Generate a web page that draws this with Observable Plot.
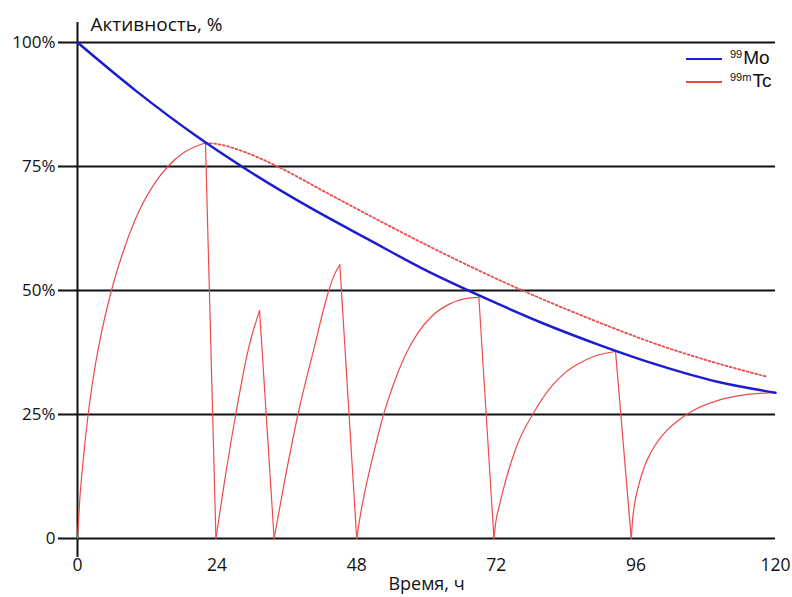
<!DOCTYPE html>
<html>
<head>
<meta charset="utf-8">
<script src="https://cdn.jsdelivr.net/npm/d3@7"></script>
<script src="https://cdn.jsdelivr.net/npm/@observablehq/plot@0.6"></script>
<style>
  body { margin: 0; background: #fff; }
  #wrap { position: relative; width: 792px; height: 597px; font-family: "Open Sans", "Liberation Sans", sans-serif; }
  #legend { position: absolute; left: 686px; top: 47px; font-family: "Liberation Sans", sans-serif; font-size: 19px; color: #111; line-height: 23px; }
  #legend .item { display: flex; align-items: center; height: 23px; }
  #legend .sw { display: inline-block; width: 36px; height: 0; margin-right: 8px; }
  #legend .sup { font-size: 11px; position: relative; top: -6px; margin-right: 1px; }
</style>
</head>
<body>
<div id="wrap">
  <div id="chart"></div>
  <div id="legend"></div>
</div>
<script>
// ---- data ----
const xTicks = [0, 24, 48, 72, 96, 120];
const yTicks = [0, 25, 50, 75, 100];

// 99Mo activity (%), time in hours
const moTime = [0, 10, 20, 30, 40, 50, 60, 70, 80, 90, 100, 110, 120];
const moAct  = [100, 90.3, 81.5, 73.7, 66.7, 60.3, 54.0, 48.5, 43.4, 38.9, 34.9, 31.6, 29.4];

// 99mTc without elution (dotted)
const tcFreeTime = [22, 25, 29, 34.4, 43, 52, 62, 76.5, 90, 100, 108, 118.6];
const tcFreeAct  = [79.8, 79.3, 77.8, 75, 69.6, 64.0, 58.0, 50, 43.4, 39.0, 36.0, 32.6];

// 99mTc ingrowth cycles between elutions: [time, activity]
const tcCycle1 = [[0, 0], [0.4, 8], [1.0, 16], [1.83, 25], [3.0, 34.5], [4.4, 43], [5.84, 50], [7.7, 57.3], [10, 64.5], [13.2, 71.5], [15.6, 75.1], [18.3, 77.8], [22.0, 79.8]];
const tcCycle2 = [[23.8, 0], [25.2, 10.9], [27.2, 25], [29.3, 37.8], [31.3, 46]];
const tcCycle3 = [[33.8, 0], [35.5, 10.9], [37.9, 25], [40.7, 38.5], [43.2, 50], [44.2, 53.3], [45.1, 55.2]];
const tcCycle4 = [[48.0, 0], [48.6, 4.5], [49.8, 11.6], [51, 17.6], [52.5, 24.5], [54.3, 31], [56.3, 36.8], [58.5, 41.4], [61, 44.9], [64, 47.3], [66.5, 48.3], [69.0, 48.6]];
const tcCycle5 = [[71.6, 0], [71.9, 3.2], [72.5, 6.5], [73.6, 11.6], [75.5, 18.6], [78.5, 25.5], [81.6, 30.8], [84, 33.6], [86.2, 35.3], [89, 36.8], [92.5, 37.7]];
const tcCycle6 = [[95.2, 0], [95.45, 4], [95.9, 7.8], [96.5, 10.8], [97.4, 14.3], [98.5, 17.2], [100, 20], [101.5, 22], [103.5, 24], [106, 25.9], [110, 27.8], [115, 29.0], [120, 29.4]];
const tcCycles = [tcCycle1, tcCycle2, tcCycle3, tcCycle4, tcCycle5, tcCycle6];

const legendLabels = [["99", "Mo"], ["99m", "Tc"]];
const colors = {mo: "#1c1cd2", tc: "#ef4a4a", grid: "#111"};

// ---- build tables ----
const mo = moTime.map((t, i) => ({t, a: moAct[i]}));
const tcFree = tcFreeTime.map((t, i) => ({t, a: tcFreeAct[i]}));
const tcRise = tcCycles.flatMap((c, k) => c.map(([t, a]) => ({t, a, cycle: k})));
const tcDrop = tcCycles.slice(0, -1).map((c, k) => {
  const end = c[c.length - 1], next = tcCycles[k + 1][0];
  return {t1: end[0], a1: end[1], t2: next[0], a2: next[1]};
});

const chart = Plot.plot({
  width: 792,
  height: 597,
  marginLeft: 77,
  marginRight: 17,
  marginTop: 42,
  marginBottom: 59,
  style: {fontFamily: "'Open Sans', 'Liberation Sans', sans-serif", background: "#fff", overflow: "visible"},
  x: {domain: [0, 120]},
  y: {domain: [0, 100]},
  marks: [
    Plot.ruleY(yTicks, {stroke: colors.grid, strokeWidth: 2, insetLeft: -19}),
    Plot.ruleX([0], {stroke: colors.grid, strokeWidth: 2, insetTop: -20, insetBottom: -19}),
    Plot.axisY({ticks: yTicks, tickSize: 0, tickPadding: 22, fontSize: 17, tickFormat: d => d === 0 ? "0" : d + "%", label: null, color: "#111"}),
    Plot.axisX({ticks: xTicks, tickSize: 0, tickPadding: 20, fontSize: 17.5, label: null, color: "#111"}),
    Plot.line(tcFree, {x: "t", y: "a", stroke: colors.tc, strokeWidth: 1.8, strokeDasharray: "2,2.4", curve: "monotone-x"}),
    Plot.line(tcRise, {x: "t", y: "a", z: "cycle", stroke: colors.tc, strokeWidth: 1.2, curve: "monotone-x"}),
    Plot.link(tcDrop, {x1: "t1", y1: "a1", x2: "t2", y2: "a2", stroke: colors.tc, strokeWidth: 1.2}),
    Plot.line(mo, {x: "t", y: "a", stroke: colors.mo, strokeWidth: 2.5, curve: "monotone-x"}),
    Plot.text(["Активность, %"], {frameAnchor: "top-left", dx: 13, dy: -18, textAnchor: "start", lineAnchor: "middle", fontSize: 19, fill: "#111"}),
    Plot.text(["Время, ч"], {frameAnchor: "bottom", dy: 46, lineAnchor: "middle", fontSize: 18, fill: "#111"})
  ]
});
document.getElementById("chart").appendChild(chart);

const legend = document.getElementById("legend");
const legendColors = [colors.mo, colors.tc];
legendLabels.forEach(([sup, name], i) => {
  const item = document.createElement("div");
  item.className = "item";
  item.innerHTML = `<span class="sw" style="border-top:2px solid ${legendColors[i]}"></span><span><span class="sup">${sup}</span>${name}</span>`;
  legend.appendChild(item);
});
</script>
</body>
</html>
